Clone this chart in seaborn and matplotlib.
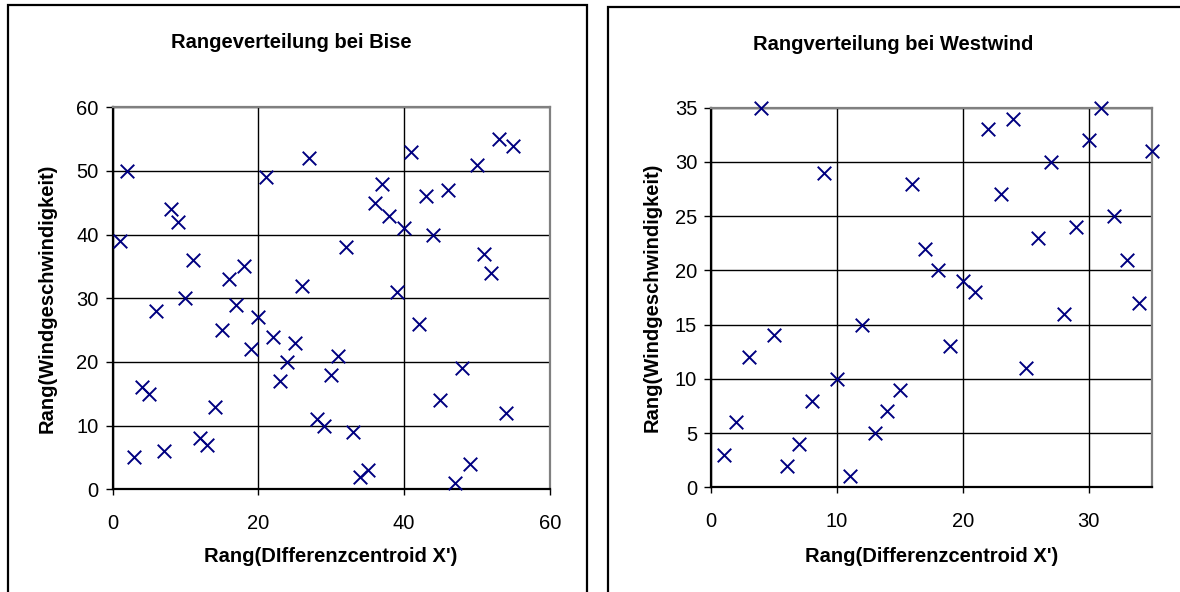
import matplotlib
matplotlib.use("Agg")
import matplotlib.pyplot as plt
import seaborn as sns
from matplotlib.patches import Rectangle

# Bise: rank pairs
bise_x = list(range(1, 56))
bise_y = [39, 50, 5, 16, 15, 28, 6, 44, 42, 30, 36, 8, 7, 13, 25, 33, 29, 35, 22, 27,
          49, 24, 17, 20, 23, 32, 52, 11, 10, 18, 21, 38, 9, 2, 3, 45, 48, 43, 31, 41,
          53, 26, 46, 40, 14, 47, 1, 19, 4, 51, 37, 34, 55, 12, 54]

# Westwind: rank pairs
west_x = list(range(1, 36))
west_y = [3, 6, 12, 35, 14, 2, 4, 8, 29, 10, 1, 15, 5, 7, 9, 28, 22, 20, 13, 19,
          18, 33, 27, 34, 11, 23, 30, 16, 24, 32, 35, 25, 21, 17, 31]

bise_xticks = [0, 20, 40, 60]
bise_yticks = [0, 10, 20, 30, 40, 50, 60]
west_xticks = [0, 10, 20, 30]
west_yticks = [0, 5, 10, 15, 20, 25, 30, 35]

sns.set_style("white")
plt.rcParams['font.family'] = ['Liberation Sans', 'DejaVu Sans']
plt.rcParams['text.color'] = 'black'
plt.rcParams['axes.labelcolor'] = 'black'
plt.rcParams['xtick.color'] = 'black'
plt.rcParams['ytick.color'] = 'black'

W, H = 1180, 592
fig = plt.figure(figsize=(W / 100, H / 100), dpi=100)

def px_axes(l, t, r, b):
    return fig.add_axes([l / W, 1 - b / H, (r - l) / W, (b - t) / H])

def style(ax, xs, ys, xt, yt, xlim, ylim, xlabel, xlab_y, ylab_x):
    sns.scatterplot(x=xs, y=ys, marker='x', color='#000080', s=95, linewidth=1.4,
                    ax=ax, clip_on=False, zorder=5)
    ax.set_xlim(*xlim)
    ax.set_ylim(*ylim)
    ax.set_xticks(xt)
    ax.set_yticks(yt)
    ax.grid(True, color='black', linewidth=1.0)
    ax.set_axisbelow(True)
    for s in ['left', 'bottom']:
        ax.spines[s].set_color('black')
        ax.spines[s].set_linewidth(1.6)
    for s in ['top', 'right']:
        ax.spines[s].set_color('#808080')
        ax.spines[s].set_linewidth(1.6)
    ax.tick_params(axis='both', direction='out', width=1, color='black',
                   labelcolor='black', labelsize=14.5, left=True, bottom=True)
    ax.tick_params(axis='y', length=5, pad=5)
    ax.tick_params(axis='x', length=4.5, pad=13)
    ax.set_xlabel(xlabel, fontsize=14.5, fontweight='bold', color='black')
    ax.set_ylabel('Rang(Windgeschwindigkeit)', fontsize=14.5, fontweight='bold',
                  color='black')
    ax.xaxis.set_label_coords(0.5, xlab_y)
    ax.xaxis.label.set_va('center')
    ax.yaxis.set_label_coords(ylab_x, 0.5)
    ax.yaxis.label.set_va('center')

ax1 = px_axes(112.5, 107.3, 549.7, 489.3)
style(ax1, bise_x, bise_y, bise_xticks, bise_yticks, (0, 60), (0, 60),
      "Rang(DIfferenzcentroid X')", (489.3 - 557) / 382, (47 - 112.5) / 437.2)

ax2 = px_axes(711, 107.7, 1151.7, 487.3)
style(ax2, west_x, west_y, west_xticks, west_yticks, (0, 35), (0, 35),
      "Rang(Differenzcentroid X')", (487.3 - 557) / 379.6, (652 - 711) / 440.7)

fig.text(291 / W, 1 - 43 / H, 'Rangeverteilung bei Bise', ha='center', va='center',
         fontsize=14.5, fontweight='bold', color='black')
fig.text(893 / W, 1 - 45 / H, 'Rangverteilung bei Westwind', ha='center', va='center',
         fontsize=14.5, fontweight='bold', color='black')

# chart-area frames
fig.patches.append(Rectangle((8 / W, -0.1), (587 - 8) / W, 1.1 - 5 / H,
                             transform=fig.transFigure, fill=False,
                             edgecolor='black', linewidth=1.6))
fig.patches.append(Rectangle((608 / W, -0.1), 0.5, 1.1 - 7 / H,
                             transform=fig.transFigure, fill=False,
                             edgecolor='black', linewidth=1.6))

fig.savefig('out.png', dpi=100)
